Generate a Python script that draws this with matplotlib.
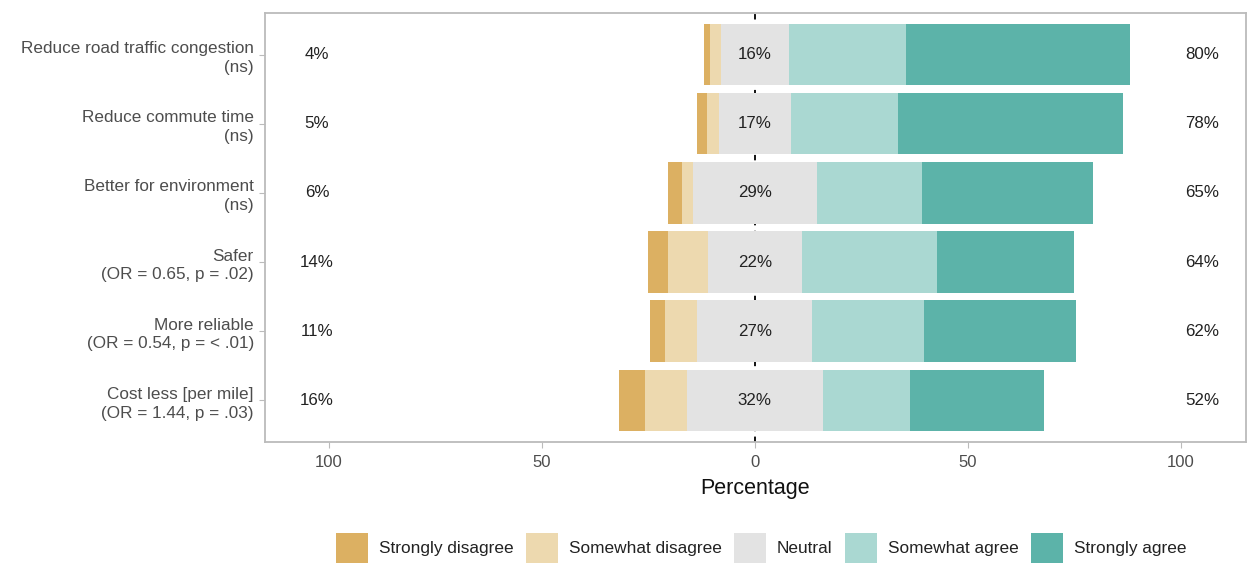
"""Diverging Likert bar chart of perceived benefits."""

import matplotlib
import matplotlib.pyplot as plt
import numpy as np
from matplotlib.patches import Patch

matplotlib.use("Agg")

plt.rcParams["font.family"] = ["Liberation Sans", "DejaVu Sans"]

# ---------------------------------------------------------------------------
# Data (percent of respondents)
# ---------------------------------------------------------------------------

items = [
    "Reduce road traffic congestion\n(ns)",
    "Reduce commute time\n(ns)",
    "Better for environment\n(ns)",
    "Safer\n(OR = 0.65, p = .02)",
    "More reliable\n(OR = 0.54, p = < .01)",
    "Cost less [per mile]\n(OR = 1.44, p = .03)",
]
strongly_disagree = [1.5, 2.3, 3.3, 4.5, 3.3, 6.1]
somewhat_disagree = [2.5, 2.7, 2.7, 9.5, 7.7, 9.9]
neutral = [16, 17, 29, 22, 27, 32]
somewhat_agree = [27.4, 25.2, 24.8, 31.8, 26.2, 20.5]
strongly_agree = [52.6, 52.8, 40.2, 32.2, 35.8, 31.5]

low_pct = [4, 5, 6, 14, 11, 16]
mid_pct = [16, 17, 29, 22, 27, 32]
high_pct = [80, 78, 65, 64, 62, 52]

levels = ["Strongly disagree", "Somewhat disagree", "Neutral",
          "Somewhat agree", "Strongly agree"]
colors = ["#DCB062", "#EDD9AF", "#E3E3E3", "#AAD8D2", "#5CB3A9"]

# ---------------------------------------------------------------------------
# Plot
# ---------------------------------------------------------------------------

sd = np.array(strongly_disagree)
smd = np.array(somewhat_disagree)
neu = np.array(neutral)
sma = np.array(somewhat_agree)
sa = np.array(strongly_agree)

y = np.arange(1, len(items) + 1)

fig = plt.figure(figsize=(12.54, 5.75), dpi=100)
ax = fig.add_axes([0.2113, 0.2313, 0.7823, 0.7461])

# stack segments: left side from the neutral midpoint outward
left_neu = -neu / 2
left_smd = left_neu - smd
left_sd = left_smd - sd
left_sma = neu / 2
left_sa = left_sma + sma

h = 0.89
ax.barh(y, sd, left=left_sd, height=h, color=colors[0], zorder=3)
ax.barh(y, smd, left=left_smd, height=h, color=colors[1], zorder=3)
ax.barh(y, neu, left=left_neu, height=h, color=colors[2], zorder=3)
ax.barh(y, sma, left=left_sma, height=h, color=colors[3], zorder=3)
ax.barh(y, sa, left=left_sa, height=h, color=colors[4], zorder=3)

ax.axvline(0, color="black", linestyle=(0, (3, 3)), linewidth=1.3, zorder=1)

txt_kw = dict(va="center", ha="center", fontsize=12.2, color="#222222", zorder=4)
for yi, lo, mi, hi in zip(y, low_pct, mid_pct, high_pct):
    ax.text(-102.8, yi, f"{lo}%", **txt_kw)
    ax.text(0, yi, f"{mi}%", **txt_kw)
    ax.text(105, yi, f"{hi}%", **txt_kw)

ax.set_xlim(-115, 115.3)
ax.set_ylim(len(items) + 0.6, 0.4)
ax.set_xticks([-100, -50, 0, 50, 100])
ax.set_xticklabels(["100", "50", "0", "50", "100"])
ax.set_yticks(y)
ax.set_yticklabels(items, fontsize=12.3, color="#4D4D4D", linespacing=1.3)
ax.tick_params(axis="x", labelsize=12, labelcolor="#4D4D4D", color="#BBBBBB",
               length=4, pad=5)
ax.tick_params(axis="y", color="#BBBBBB", length=4, pad=4)
for lbl in ax.get_yticklabels():
    lbl.set_multialignment("right")
ax.set_xlabel("Percentage", fontsize=15.5, color="#111111", labelpad=6)

for spine in ax.spines.values():
    spine.set_color("#BBBBBB")
    spine.set_linewidth(1.3)

handles = [Patch(facecolor=c, edgecolor="none") for c in colors]
fig.legend(handles, levels, loc="center", bbox_to_anchor=(0.607, 0.047),
           ncol=5, frameon=False, fontsize=12.4, handlelength=1.86,
           handleheight=2.3, handletextpad=0.64, columnspacing=0.7,
           labelcolor="#222222")

fig.savefig("out.png", dpi=100)
plt.close(fig)
